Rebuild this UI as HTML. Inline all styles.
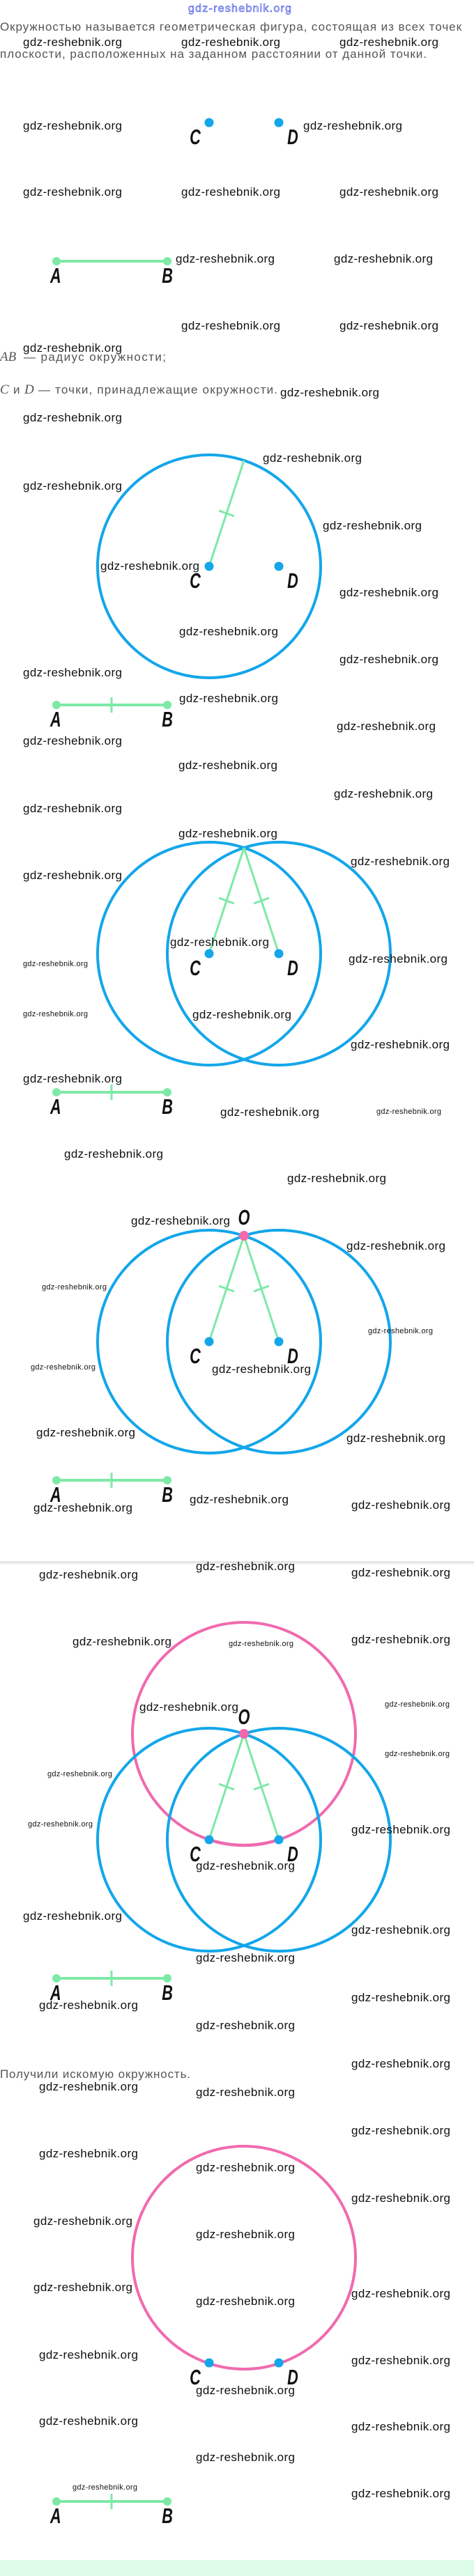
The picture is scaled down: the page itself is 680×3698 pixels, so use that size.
<!DOCTYPE html>
<html><head><meta charset="utf-8"><style>
html,body{margin:0;padding:0;background:#fff;}
svg{display:block;}
.w{font-family:"Liberation Sans",sans-serif;font-size:17px;fill:#111;}
.s{font-family:"Liberation Sans",sans-serif;font-size:11px;fill:#111;}
.t{font-family:"Liberation Sans",sans-serif;font-size:17px;fill:#555;}
.m{font-family:"Liberation Serif",serif;font-style:italic;font-size:19px;fill:#555;}
.L{font-family:"Liberation Sans",sans-serif;font-weight:bold;font-style:italic;font-size:31px;fill:#111;}
</style></head><body>
<svg width="680" height="3698" viewBox="0 0 680 3698" xmlns="http://www.w3.org/2000/svg">
<!-- header -->
<text x="270" y="17" font-family="Liberation Sans,sans-serif" font-size="16" fill="#dfe3ff" stroke="#3040e0" stroke-width="0.6" textLength="148">gdz-reshebnik.org</text>
<text class="t" x="0" y="44" textLength="662">Окружностью называется геометрическая фигура, состоящая из всех точек</text>
<text class="t" x="0" y="83" textLength="612">плоскости, расположенных на заданном расстоянии от данной точки.</text>

<!-- sec1 -->
<circle cx="300" cy="176" r="6.5" fill="#13a6ea"/><circle cx="400" cy="176" r="6.5" fill="#13a6ea"/>
<text class="L" x="400" y="207" text-anchor="middle" transform="scale(0.7,1)">C</text>
<text class="L" x="600" y="207" text-anchor="middle" transform="scale(0.7,1)">D</text>
<line x1="81" y1="375" x2="240" y2="375" stroke="#7ee9a6" stroke-width="4"/>
<circle cx="81" cy="375" r="6" fill="#7ee9a6"/><circle cx="240" cy="375" r="6" fill="#7ee9a6"/>
<text class="L" x="114" y="406" text-anchor="middle" transform="scale(0.7,1)">A</text>
<text class="L" x="343" y="406" text-anchor="middle" transform="scale(0.7,1)">B</text>
<text class="m" x="0" y="518">AB</text><text class="t" x="34" y="518" textLength="204">— радиус окружности;</text>
<text class="m" x="0" y="565">C</text><text class="t" x="19" y="565">и</text><text class="m" x="35" y="565">D</text><text class="t" x="55" y="565" textLength="343">— точки, принадлежащие окружности.</text>

<!-- sec2 -->
<circle cx="300" cy="813" r="160" fill="none" stroke="#13a6ea" stroke-width="4"/>
<line x1="300" y1="813" x2="350" y2="661" stroke="#7ee9a6" stroke-width="3"/>
<line x1="314" y1="733" x2="336" y2="741" stroke="#7ee9a6" stroke-width="3"/>
<circle cx="300" cy="813" r="6.5" fill="#13a6ea"/><circle cx="400" cy="813" r="6.5" fill="#13a6ea"/>
<text class="L" x="400" y="844" text-anchor="middle" transform="scale(0.7,1)">C</text>
<text class="L" x="600" y="844" text-anchor="middle" transform="scale(0.7,1)">D</text>
<line x1="81" y1="1012" x2="240" y2="1012" stroke="#7ee9a6" stroke-width="4"/>
<line x1="160" y1="1001" x2="160" y2="1023" stroke="#7ee9a6" stroke-width="3"/>
<circle cx="81" cy="1012" r="6" fill="#7ee9a6"/><circle cx="240" cy="1012" r="6" fill="#7ee9a6"/>
<text class="L" x="114" y="1043" text-anchor="middle" transform="scale(0.7,1)">A</text>
<text class="L" x="343" y="1043" text-anchor="middle" transform="scale(0.7,1)">B</text>

<!-- sec3 -->
<circle cx="300" cy="1369" r="160" fill="none" stroke="#13a6ea" stroke-width="4"/>
<circle cx="400" cy="1369" r="160" fill="none" stroke="#13a6ea" stroke-width="4"/>
<line x1="300" y1="1369" x2="350" y2="1217" stroke="#7ee9a6" stroke-width="3"/>
<line x1="400" y1="1369" x2="350" y2="1217" stroke="#7ee9a6" stroke-width="3"/>
<line x1="314" y1="1289" x2="336" y2="1297" stroke="#7ee9a6" stroke-width="3"/>
<line x1="364" y1="1297" x2="386" y2="1289" stroke="#7ee9a6" stroke-width="3"/>
<circle cx="300" cy="1369" r="6.5" fill="#13a6ea"/><circle cx="400" cy="1369" r="6.5" fill="#13a6ea"/>
<text class="L" x="400" y="1400" text-anchor="middle" transform="scale(0.7,1)">C</text>
<text class="L" x="600" y="1400" text-anchor="middle" transform="scale(0.7,1)">D</text>
<line x1="81" y1="1568" x2="240" y2="1568" stroke="#7ee9a6" stroke-width="4"/>
<line x1="160" y1="1557" x2="160" y2="1579" stroke="#7ee9a6" stroke-width="3"/>
<circle cx="81" cy="1568" r="6" fill="#7ee9a6"/><circle cx="240" cy="1568" r="6" fill="#7ee9a6"/>
<text class="L" x="114" y="1599" text-anchor="middle" transform="scale(0.7,1)">A</text>
<text class="L" x="343" y="1599" text-anchor="middle" transform="scale(0.7,1)">B</text>

<!-- sec4 -->
<circle cx="300" cy="1926" r="160" fill="none" stroke="#13a6ea" stroke-width="4"/>
<circle cx="400" cy="1926" r="160" fill="none" stroke="#13a6ea" stroke-width="4"/>
<line x1="300" y1="1926" x2="350" y2="1774" stroke="#7ee9a6" stroke-width="3"/>
<line x1="400" y1="1926" x2="350" y2="1774" stroke="#7ee9a6" stroke-width="3"/>
<line x1="314" y1="1846" x2="336" y2="1854" stroke="#7ee9a6" stroke-width="3"/>
<line x1="364" y1="1854" x2="386" y2="1846" stroke="#7ee9a6" stroke-width="3"/>
<circle cx="300" cy="1926" r="6.5" fill="#13a6ea"/><circle cx="400" cy="1926" r="6.5" fill="#13a6ea"/>
<circle cx="350" cy="1774" r="7" fill="#f06aae"/>
<text class="L" x="500" y="1758" text-anchor="middle" transform="scale(0.7,1)">O</text>
<text class="L" x="400" y="1957" text-anchor="middle" transform="scale(0.7,1)">C</text>
<text class="L" x="600" y="1957" text-anchor="middle" transform="scale(0.7,1)">D</text>
<line x1="81" y1="2125" x2="240" y2="2125" stroke="#7ee9a6" stroke-width="4"/>
<line x1="160" y1="2114" x2="160" y2="2136" stroke="#7ee9a6" stroke-width="3"/>
<circle cx="81" cy="2125" r="6" fill="#7ee9a6"/><circle cx="240" cy="2125" r="6" fill="#7ee9a6"/>
<text class="L" x="114" y="2156" text-anchor="middle" transform="scale(0.7,1)">A</text>
<text class="L" x="343" y="2156" text-anchor="middle" transform="scale(0.7,1)">B</text>

<!-- separator -->
<rect x="0" y="2241" width="680" height="3" fill="#e6e6e6"/>
<rect x="0" y="2244" width="680" height="2" fill="#f3f3f3"/>

<!-- sec5 -->
<circle cx="350" cy="2489" r="160" fill="none" stroke="#f06aae" stroke-width="4"/>
<circle cx="300" cy="2641" r="160" fill="none" stroke="#13a6ea" stroke-width="4"/>
<circle cx="400" cy="2641" r="160" fill="none" stroke="#13a6ea" stroke-width="4"/>
<path d="M300 2641 A160 160 0 0 0 400 2641" fill="none" stroke="#f06aae" stroke-width="4.5"/>
<line x1="300" y1="2641" x2="350" y2="2489" stroke="#7ee9a6" stroke-width="3"/>
<line x1="400" y1="2641" x2="350" y2="2489" stroke="#7ee9a6" stroke-width="3"/>
<line x1="314" y1="2561" x2="336" y2="2569" stroke="#7ee9a6" stroke-width="3"/>
<line x1="364" y1="2569" x2="386" y2="2561" stroke="#7ee9a6" stroke-width="3"/>
<circle cx="300" cy="2641" r="6.5" fill="#13a6ea"/><circle cx="400" cy="2641" r="6.5" fill="#13a6ea"/>
<circle cx="350" cy="2489" r="7" fill="#f06aae"/>
<text class="L" x="500" y="2475" text-anchor="middle" transform="scale(0.7,1)">O</text>
<text class="L" x="400" y="2672" text-anchor="middle" transform="scale(0.7,1)">C</text>
<text class="L" x="600" y="2672" text-anchor="middle" transform="scale(0.7,1)">D</text>
<line x1="81" y1="2840" x2="240" y2="2840" stroke="#7ee9a6" stroke-width="4"/>
<line x1="160" y1="2829" x2="160" y2="2851" stroke="#7ee9a6" stroke-width="3"/>
<circle cx="81" cy="2840" r="6" fill="#7ee9a6"/><circle cx="240" cy="2840" r="6" fill="#7ee9a6"/>
<text class="L" x="114" y="2871" text-anchor="middle" transform="scale(0.7,1)">A</text>
<text class="L" x="343" y="2871" text-anchor="middle" transform="scale(0.7,1)">B</text>
<text class="t" x="0" y="2983" textLength="273">Получили искомую окружность.</text>

<!-- sec6 -->
<circle cx="350" cy="3241" r="160" fill="none" stroke="#f06aae" stroke-width="4"/>
<circle cx="300" cy="3392" r="6.5" fill="#13a6ea"/><circle cx="400" cy="3392" r="6.5" fill="#13a6ea"/>
<text class="L" x="400" y="3423" text-anchor="middle" transform="scale(0.7,1)">C</text>
<text class="L" x="600" y="3423" text-anchor="middle" transform="scale(0.7,1)">D</text>
<line x1="81" y1="3591" x2="240" y2="3591" stroke="#7ee9a6" stroke-width="4"/>
<line x1="160" y1="3580" x2="160" y2="3602" stroke="#7ee9a6" stroke-width="3"/>
<circle cx="81" cy="3591" r="6" fill="#7ee9a6"/><circle cx="240" cy="3591" r="6" fill="#7ee9a6"/>
<text class="L" x="114" y="3622" text-anchor="middle" transform="scale(0.7,1)">A</text>
<text class="L" x="343" y="3622" text-anchor="middle" transform="scale(0.7,1)">B</text>
<rect x="0" y="3675" width="680" height="23" fill="#dcfbe9"/>

<!-- watermarks -->
<g>
<text class="w" x="33" y="66" textLength="142">gdz-reshebnik.org</text>
<text class="w" x="260" y="66" textLength="142">gdz-reshebnik.org</text>
<text class="w" x="487" y="66" textLength="142">gdz-reshebnik.org</text>
<text class="w" x="33" y="186" textLength="142">gdz-reshebnik.org</text>
<text class="w" x="435" y="186" textLength="142">gdz-reshebnik.org</text>
<text class="w" x="33" y="281" textLength="142">gdz-reshebnik.org</text>
<text class="w" x="260" y="281" textLength="142">gdz-reshebnik.org</text>
<text class="w" x="487" y="281" textLength="142">gdz-reshebnik.org</text>
<text class="w" x="252" y="377" textLength="142">gdz-reshebnik.org</text>
<text class="w" x="479" y="377" textLength="142">gdz-reshebnik.org</text>
<text class="w" x="260" y="473" textLength="142">gdz-reshebnik.org</text>
<text class="w" x="487" y="473" textLength="142">gdz-reshebnik.org</text>
<text class="w" x="33" y="505" textLength="142">gdz-reshebnik.org</text>
<text class="w" x="402" y="569" textLength="142">gdz-reshebnik.org</text>
<text class="w" x="33" y="605" textLength="142">gdz-reshebnik.org</text>
<text class="w" x="377" y="663" textLength="142">gdz-reshebnik.org</text>
<text class="w" x="33" y="703" textLength="142">gdz-reshebnik.org</text>
<text class="w" x="463" y="760" textLength="142">gdz-reshebnik.org</text>
<text class="w" x="144" y="818" textLength="142">gdz-reshebnik.org</text>
<text class="w" x="487" y="856" textLength="142">gdz-reshebnik.org</text>
<text class="w" x="257" y="912" textLength="142">gdz-reshebnik.org</text>
<text class="w" x="487" y="952" textLength="142">gdz-reshebnik.org</text>
<text class="w" x="33" y="971" textLength="142">gdz-reshebnik.org</text>
<text class="w" x="257" y="1008" textLength="142">gdz-reshebnik.org</text>
<text class="w" x="483" y="1048" textLength="142">gdz-reshebnik.org</text>
<text class="w" x="33" y="1069" textLength="142">gdz-reshebnik.org</text>
<text class="w" x="256" y="1104" textLength="142">gdz-reshebnik.org</text>
<text class="w" x="479" y="1145" textLength="142">gdz-reshebnik.org</text>
<text class="w" x="33" y="1166" textLength="142">gdz-reshebnik.org</text>
<text class="w" x="256" y="1202" textLength="142">gdz-reshebnik.org</text>
<text class="w" x="503" y="1242" textLength="142">gdz-reshebnik.org</text>
<text class="w" x="33" y="1262" textLength="142">gdz-reshebnik.org</text>
<text class="w" x="244" y="1358" textLength="142">gdz-reshebnik.org</text>
<text class="s" x="33" y="1387" textLength="93">gdz-reshebnik.org</text>
<text class="w" x="500" y="1382" textLength="142">gdz-reshebnik.org</text>
<text class="s" x="33" y="1459" textLength="93">gdz-reshebnik.org</text>
<text class="w" x="276" y="1462" textLength="142">gdz-reshebnik.org</text>
<text class="w" x="503" y="1505" textLength="142">gdz-reshebnik.org</text>
<text class="w" x="33" y="1554" textLength="142">gdz-reshebnik.org</text>
<text class="w" x="316" y="1602" textLength="142">gdz-reshebnik.org</text>
<text class="s" x="540" y="1599" textLength="93">gdz-reshebnik.org</text>
<text class="w" x="92" y="1662" textLength="142">gdz-reshebnik.org</text>
<text class="w" x="412" y="1697" textLength="142">gdz-reshebnik.org</text>
<text class="w" x="188" y="1758" textLength="142">gdz-reshebnik.org</text>
<text class="w" x="497" y="1794" textLength="142">gdz-reshebnik.org</text>
<text class="s" x="60" y="1851" textLength="93">gdz-reshebnik.org</text>
<text class="s" x="528" y="1914" textLength="93">gdz-reshebnik.org</text>
<text class="s" x="44" y="1966" textLength="93">gdz-reshebnik.org</text>
<text class="w" x="304" y="1971" textLength="142">gdz-reshebnik.org</text>
<text class="w" x="52" y="2062" textLength="142">gdz-reshebnik.org</text>
<text class="w" x="497" y="2070" textLength="142">gdz-reshebnik.org</text>
<text class="w" x="272" y="2158" textLength="142">gdz-reshebnik.org</text>
<text class="w" x="48" y="2170" textLength="142">gdz-reshebnik.org</text>
<text class="w" x="504" y="2166" textLength="142">gdz-reshebnik.org</text>
<text class="w" x="281" y="2254" textLength="142">gdz-reshebnik.org</text>
<text class="w" x="504" y="2263" textLength="142">gdz-reshebnik.org</text>
<text class="w" x="56" y="2266" textLength="142">gdz-reshebnik.org</text>
<text class="w" x="104" y="2362" textLength="142">gdz-reshebnik.org</text>
<text class="s" x="328" y="2363" textLength="93">gdz-reshebnik.org</text>
<text class="w" x="504" y="2359" textLength="142">gdz-reshebnik.org</text>
<text class="w" x="200" y="2456" textLength="142">gdz-reshebnik.org</text>
<text class="s" x="552" y="2450" textLength="93">gdz-reshebnik.org</text>
<text class="s" x="552" y="2521" textLength="93">gdz-reshebnik.org</text>
<text class="s" x="68" y="2550" textLength="93">gdz-reshebnik.org</text>
<text class="s" x="40" y="2622" textLength="93">gdz-reshebnik.org</text>
<text class="w" x="504" y="2632" textLength="142">gdz-reshebnik.org</text>
<text class="w" x="281" y="2684" textLength="142">gdz-reshebnik.org</text>
<text class="w" x="33" y="2756" textLength="142">gdz-reshebnik.org</text>
<text class="w" x="504" y="2776" textLength="142">gdz-reshebnik.org</text>
<text class="w" x="281" y="2816" textLength="142">gdz-reshebnik.org</text>
<text class="w" x="56" y="2884" textLength="142">gdz-reshebnik.org</text>
<text class="w" x="504" y="2873" textLength="142">gdz-reshebnik.org</text>
<text class="w" x="281" y="2913" textLength="142">gdz-reshebnik.org</text>
<text class="w" x="504" y="2968" textLength="142">gdz-reshebnik.org</text>
<text class="w" x="56" y="3001" textLength="142">gdz-reshebnik.org</text>
<text class="w" x="281" y="3009" textLength="142">gdz-reshebnik.org</text>
<text class="w" x="504" y="3064" textLength="142">gdz-reshebnik.org</text>
<text class="w" x="56" y="3097" textLength="142">gdz-reshebnik.org</text>
<text class="w" x="281" y="3117" textLength="142">gdz-reshebnik.org</text>
<text class="w" x="504" y="3161" textLength="142">gdz-reshebnik.org</text>
<text class="w" x="48" y="3194" textLength="142">gdz-reshebnik.org</text>
<text class="w" x="281" y="3213" textLength="142">gdz-reshebnik.org</text>
<text class="w" x="48" y="3289" textLength="142">gdz-reshebnik.org</text>
<text class="w" x="504" y="3298" textLength="142">gdz-reshebnik.org</text>
<text class="w" x="281" y="3309" textLength="142">gdz-reshebnik.org</text>
<text class="w" x="56" y="3386" textLength="142">gdz-reshebnik.org</text>
<text class="w" x="504" y="3394" textLength="142">gdz-reshebnik.org</text>
<text class="w" x="281" y="3437" textLength="142">gdz-reshebnik.org</text>
<text class="w" x="56" y="3481" textLength="142">gdz-reshebnik.org</text>
<text class="w" x="504" y="3489" textLength="142">gdz-reshebnik.org</text>
<text class="w" x="281" y="3533" textLength="142">gdz-reshebnik.org</text>
<text class="s" x="104" y="3574" textLength="93">gdz-reshebnik.org</text>
<text class="w" x="504" y="3585" textLength="142">gdz-reshebnik.org</text>
</g>
</svg>
</body></html>
